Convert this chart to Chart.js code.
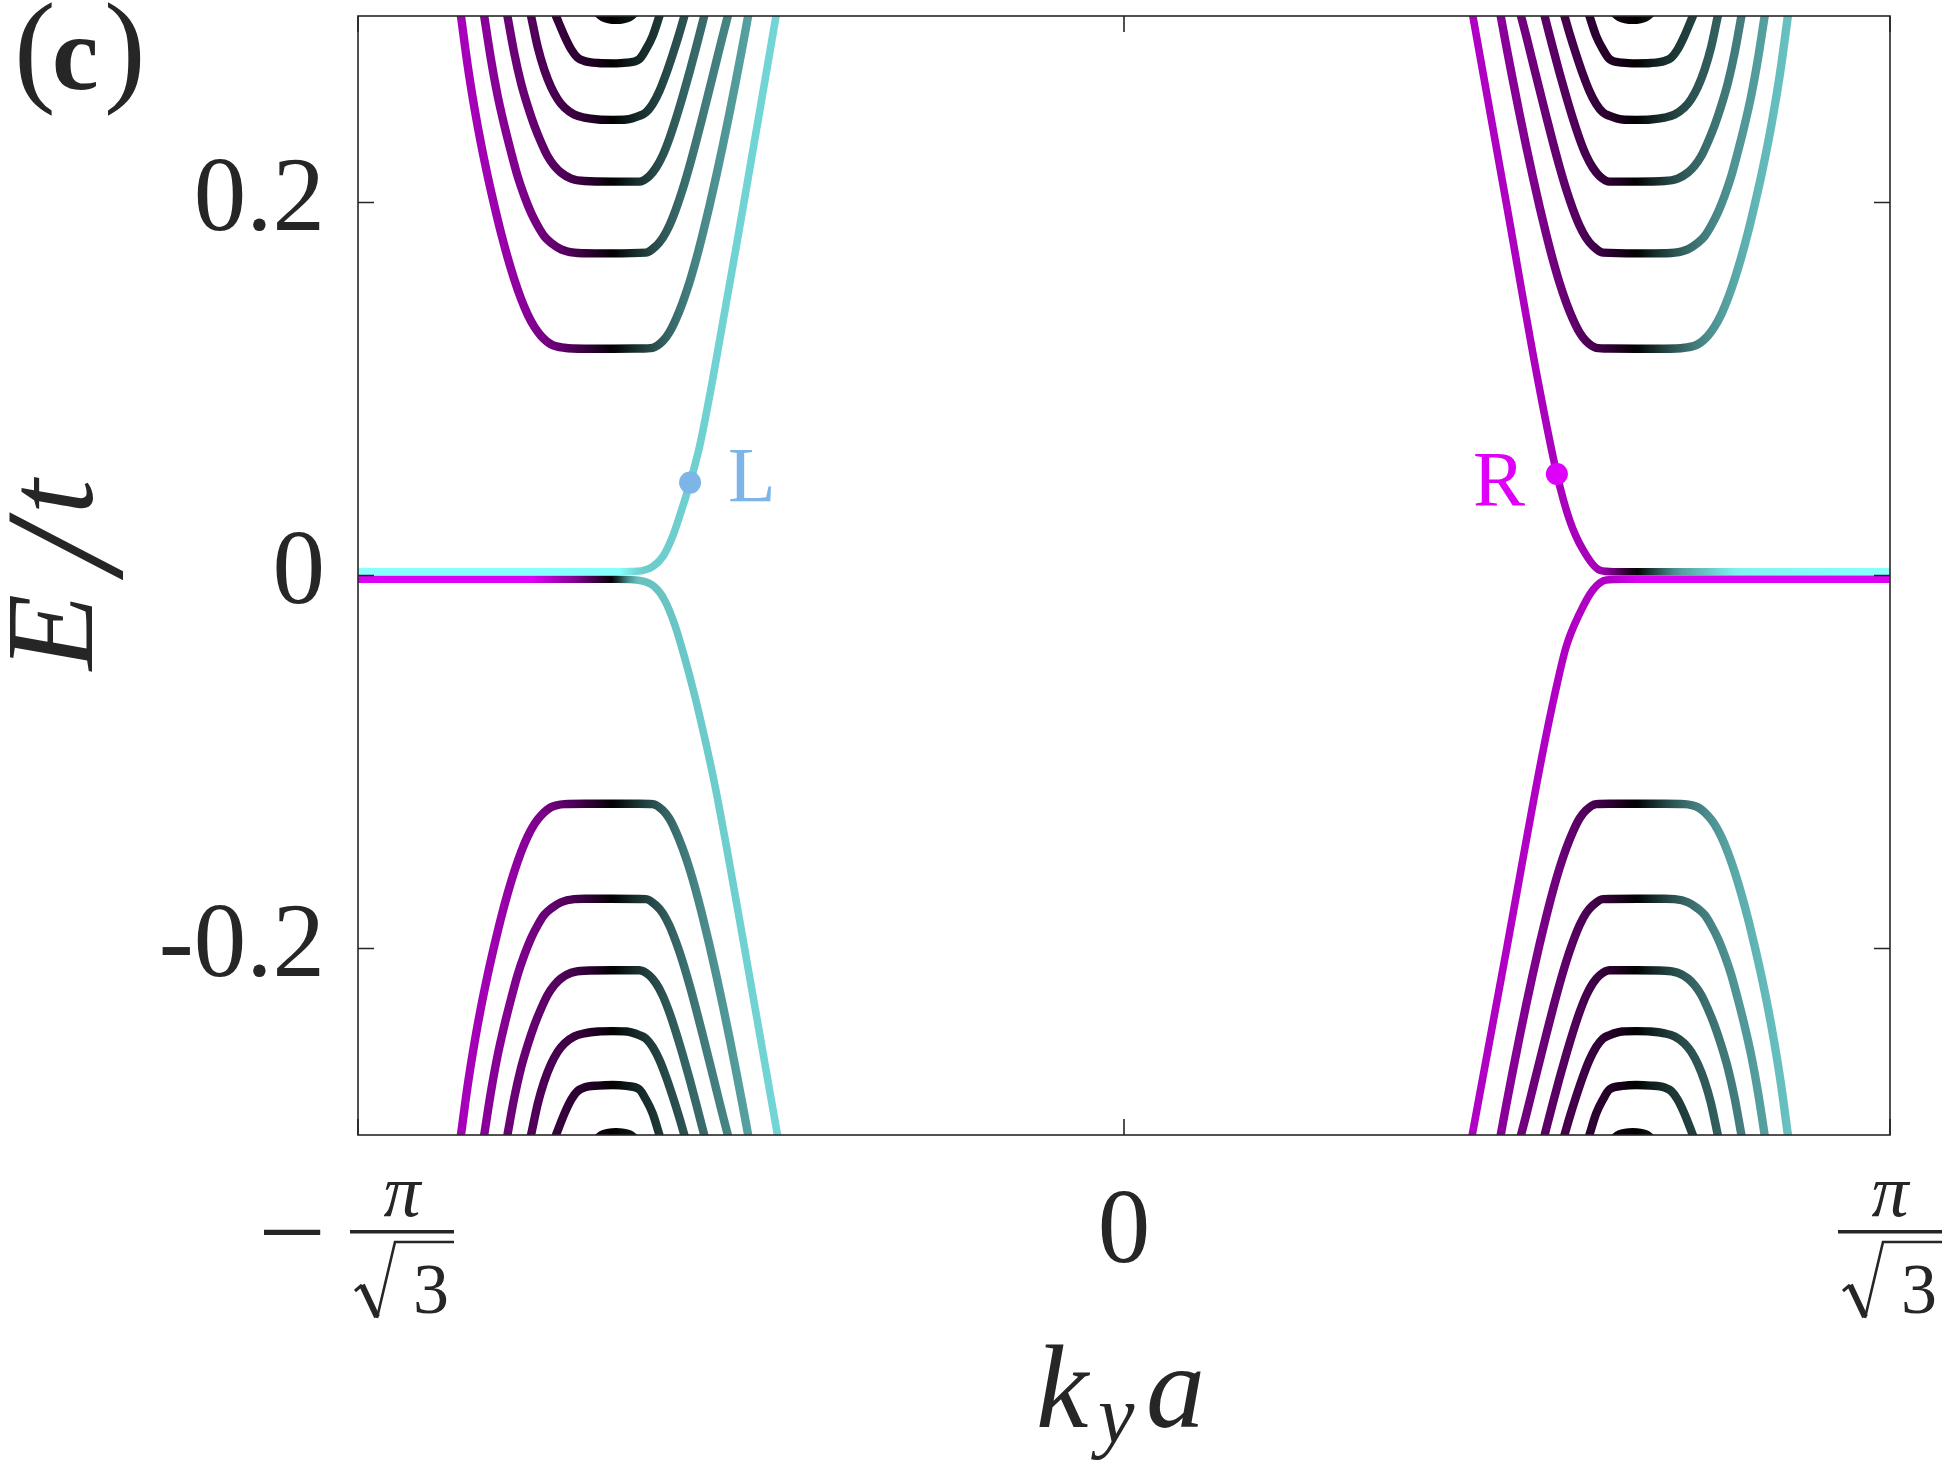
<!DOCTYPE html>
<html><head><meta charset="utf-8">
<script src="https://cdn.jsdelivr.net/npm/chart.js@4.4.1/dist/chart.umd.min.js"></script>
<style>html,body{margin:0;padding:0;background:#fff;}canvas{display:block;}</style>
</head><body>
<canvas id="c" width="1946" height="1466"></canvas>
<script>
// ---------------- DATA (ky*a on x, E/t on y) ----------------
const KMAX = Math.PI / Math.sqrt(3);
const yTicks = [-0.2, 0, 0.2];
const xTicks = [-KMAX, 0, KMAX];

// left valley, Landau-level bands n = 1..6 (c = conduction, v = valence)
const kL1 = [-1.570,-1.554,-1.538,-1.523,-1.507,-1.491,-1.475,-1.460,-1.444,-1.428,-1.412,-1.396,-1.380,-1.357,-1.325,-1.278,-1.211,-1.148,-1.116,-1.092,-1.077,-1.061,-1.045,-1.029,-1.013,-0.998,-0.982,-0.966,-0.950,-0.934,-0.919,-0.903,-0.890];
const eL1c = [0.300,0.2733,0.2506,0.2320,0.2144,0.1984,0.1835,0.1709,0.1589,0.1485,0.1399,0.1332,0.1284,0.1240,0.1221,0.1216,0.1216,0.1217,0.1221,0.1257,0.1302,0.1374,0.1464,0.1571,0.1696,0.1827,0.1977,0.2137,0.2305,0.2481,0.2652,0.2841,0.300];
const eL1v = [-0.300,-0.2733,-0.2506,-0.2320,-0.2144,-0.1984,-0.1835,-0.1709,-0.1589,-0.1485,-0.1399,-0.1332,-0.1286,-0.1243,-0.1226,-0.1224,-0.1224,-0.1224,-0.1226,-0.1259,-0.1302,-0.1374,-0.1464,-0.1571,-0.1696,-0.1827,-0.1977,-0.2137,-0.2305,-0.2481,-0.2652,-0.2841,-0.300];
const kL2 = [-1.515,-1.499,-1.483,-1.467,-1.451,-1.436,-1.420,-1.404,-1.388,-1.373,-1.357,-1.333,-1.302,-1.278,-1.215,-1.132,-1.108,-1.092,-1.077,-1.061,-1.045,-1.029,-1.013,-0.998,-0.982,-0.966,-0.950,-0.938];
const eL2c = [0.300,0.2768,0.2571,0.2410,0.2267,0.2142,0.2035,0.1945,0.1874,0.1820,0.1784,0.1749,0.1731,0.1728,0.1727,0.1731,0.1767,0.1811,0.1874,0.1964,0.2071,0.2194,0.2328,0.2460,0.2604,0.2750,0.2896,0.300];
const eL2v = [-0.300,-0.2768,-0.2571,-0.2410,-0.2267,-0.2142,-0.2035,-0.1945,-0.1874,-0.1820,-0.1786,-0.1752,-0.1735,-0.1733,-0.1733,-0.1735,-0.1769,-0.1811,-0.1874,-0.1964,-0.2071,-0.2194,-0.2328,-0.2460,-0.2604,-0.2750,-0.2896,-0.300];
const kL3 = [-1.460,-1.444,-1.428,-1.412,-1.396,-1.380,-1.365,-1.349,-1.333,-1.309,-1.278,-1.211,-1.148,-1.124,-1.108,-1.092,-1.077,-1.061,-1.045,-1.029,-1.013,-0.994];
const eL3c = [0.300,0.2803,0.2642,0.2517,0.2410,0.2321,0.2249,0.2196,0.2160,0.2128,0.2115,0.2112,0.2112,0.2142,0.2187,0.2254,0.2340,0.2449,0.2569,0.2697,0.2833,0.300];
const eL3v = [-0.300,-0.2803,-0.2642,-0.2517,-0.2410,-0.2321,-0.2249,-0.2196,-0.2160,-0.2130,-0.2119,-0.2117,-0.2117,-0.2144,-0.2187,-0.2254,-0.2340,-0.2449,-0.2569,-0.2697,-0.2833,-0.300];
const kL4 = [-1.404,-1.388,-1.373,-1.357,-1.341,-1.325,-1.302,-1.278,-1.245,-1.211,-1.178,-1.148,-1.132,-1.116,-1.100,-1.084,-1.069,-1.053,-1.041];
const eL4c = [0.300,0.2831,0.2714,0.2621,0.2554,0.2509,0.2472,0.2455,0.2445,0.2443,0.2445,0.2464,0.2483,0.2528,0.2598,0.2691,0.2791,0.2906,0.300];
const eL4v = [-0.300,-0.2831,-0.2714,-0.2621,-0.2554,-0.2509,-0.2472,-0.2455,-0.2445,-0.2443,-0.2445,-0.2464,-0.2483,-0.2528,-0.2598,-0.2691,-0.2791,-0.2906,-0.300];
const kL5 = [-1.345,-1.325,-1.309,-1.294,-1.278,-1.245,-1.211,-1.178,-1.148,-1.132,-1.116,-1.100];
const eL5c = [0.300,0.2893,0.2821,0.2777,0.2759,0.2748,0.2746,0.2750,0.2768,0.2821,0.2893,0.300];
const eL5v = [-0.300,-0.2885,-0.2810,-0.2765,-0.2745,-0.2735,-0.2732,-0.2737,-0.2755,-0.2810,-0.2885,-0.300];
const kL6 = [-1.250,-1.234,-1.203,-1.171,-1.155];
const eL6c = [0.3023,0.2993,0.2979,0.2993,0.3023];
const eL6v = [-0.3023,-0.2997,-0.2985,-0.2997,-0.3023];

// right valley
const kR1 = [0.892,0.905,0.921,0.936,0.952,0.968,0.984,1.000,1.015,1.031,1.047,1.063,1.079,1.094,1.118,1.150,1.213,1.280,1.327,1.359,1.382,1.398,1.414,1.430,1.446,1.462,1.477,1.493,1.509,1.525,1.540,1.556,1.572];
const eR1c = [0.300,0.2841,0.2652,0.2481,0.2305,0.2137,0.1977,0.1827,0.1696,0.1571,0.1464,0.1374,0.1302,0.1257,0.1221,0.1217,0.1216,0.1216,0.1221,0.1240,0.1284,0.1332,0.1399,0.1485,0.1589,0.1709,0.1835,0.1984,0.2144,0.2320,0.2506,0.2733,0.300];
const eR1v = [-0.300,-0.2841,-0.2652,-0.2481,-0.2305,-0.2137,-0.1977,-0.1827,-0.1696,-0.1571,-0.1464,-0.1374,-0.1302,-0.1259,-0.1226,-0.1224,-0.1224,-0.1224,-0.1226,-0.1243,-0.1286,-0.1332,-0.1399,-0.1485,-0.1589,-0.1709,-0.1835,-0.1984,-0.2144,-0.2320,-0.2506,-0.2733,-0.300];
const kR2 = [0.940,0.952,0.968,0.984,1.000,1.015,1.031,1.047,1.063,1.079,1.094,1.110,1.134,1.217,1.280,1.304,1.335,1.359,1.375,1.390,1.406,1.422,1.438,1.453,1.469,1.485,1.501,1.517];
const eR2c = [0.300,0.2896,0.2750,0.2604,0.2460,0.2328,0.2194,0.2071,0.1964,0.1874,0.1811,0.1767,0.1731,0.1727,0.1728,0.1731,0.1749,0.1784,0.1820,0.1874,0.1945,0.2035,0.2142,0.2267,0.2410,0.2571,0.2768,0.300];
const eR2v = [-0.300,-0.2896,-0.2750,-0.2604,-0.2460,-0.2328,-0.2194,-0.2071,-0.1964,-0.1874,-0.1811,-0.1769,-0.1735,-0.1733,-0.1733,-0.1735,-0.1752,-0.1786,-0.1820,-0.1874,-0.1945,-0.2035,-0.2142,-0.2267,-0.2410,-0.2571,-0.2768,-0.300];
const kR3 = [0.996,1.015,1.031,1.047,1.063,1.079,1.094,1.110,1.126,1.150,1.213,1.280,1.311,1.335,1.351,1.367,1.382,1.398,1.414,1.430,1.446,1.462];
const eR3c = [0.300,0.2833,0.2697,0.2569,0.2449,0.2340,0.2254,0.2187,0.2142,0.2112,0.2112,0.2115,0.2128,0.2160,0.2196,0.2249,0.2321,0.2410,0.2517,0.2642,0.2803,0.300];
const eR3v = [-0.300,-0.2833,-0.2697,-0.2569,-0.2449,-0.2340,-0.2254,-0.2187,-0.2144,-0.2117,-0.2117,-0.2119,-0.2130,-0.2160,-0.2196,-0.2249,-0.2321,-0.2410,-0.2517,-0.2642,-0.2803,-0.300];
const kR4 = [1.043,1.055,1.071,1.086,1.102,1.118,1.134,1.150,1.180,1.213,1.247,1.280,1.304,1.327,1.343,1.359,1.375,1.390,1.406];
const eR4c = [0.300,0.2906,0.2791,0.2691,0.2598,0.2528,0.2483,0.2464,0.2445,0.2443,0.2445,0.2455,0.2472,0.2509,0.2554,0.2621,0.2714,0.2831,0.300];
const eR4v = [-0.300,-0.2906,-0.2791,-0.2691,-0.2598,-0.2528,-0.2483,-0.2464,-0.2445,-0.2443,-0.2445,-0.2455,-0.2472,-0.2509,-0.2554,-0.2621,-0.2714,-0.2831,-0.300];
const kR5 = [1.102,1.118,1.134,1.150,1.180,1.213,1.247,1.280,1.296,1.311,1.327,1.347];
const eR5c = [0.300,0.2893,0.2821,0.2768,0.2750,0.2746,0.2748,0.2759,0.2777,0.2821,0.2893,0.300];
const eR5v = [-0.300,-0.2885,-0.2810,-0.2755,-0.2737,-0.2732,-0.2735,-0.2745,-0.2765,-0.2810,-0.2885,-0.300];
const kR6 = [1.157,1.173,1.205,1.236,1.252];
const eR6c = [0.3023,0.2993,0.2979,0.2993,0.3023];
const eR6v = [-0.3023,-0.2997,-0.2985,-0.2997,-0.3023];

// zero-energy / edge-state bands
const kLZu = [-1.814,-1.195,-1.171,-1.140,-1.116,-1.092,-1.069,-1.045,-1.0275,-1.005,-0.974,-0.900,-0.824];
const eLZu = [0.002,0.002,0.0021,0.0026,0.0047,0.0101,0.0208,0.0369,0.0498,0.0692,0.1051,0.200,0.300];
const kLZl = [-1.814,-1.200,-1.1435,-1.112,-1.088,-1.065,-1.041,-1.017,-0.994,-0.970,-0.940,-0.898,-0.8205];
const eLZl = [-0.002,-0.002,-0.0028,-0.0060,-0.0131,-0.0256,-0.0435,-0.0640,-0.0860,-0.1110,-0.1470,-0.2005,-0.300];
const kRZu = [0.826,0.905,0.980,1.025,1.055,1.087,1.126,1.160,1.814];
const eRZu = [0.300,0.200,0.1047,0.0544,0.0298,0.0137,0.0029,0.002,0.002];
const kRZl = [0.8245,0.907,0.988,1.024,1.047,1.079,1.110,1.142,1.180,1.814];
const eRZl = [-0.300,-0.199,-0.0989,-0.0596,-0.0382,-0.0203,-0.0078,-0.0024,-0.002,-0.002];

// marked states
const markL = [-1.0275, 0.0498];
const markR = [1.025, 0.0544];

// ---------------- STYLE ----------------
const TEXT = '#262626';
const SERIF = '"Liberation Serif","Times New Roman",serif';
const COL_L = '#7db5e6';
const COL_R = '#de00f8';
const LW = 8.4;
const leftStyle  = [[.80,.68,.20],[.66,.56,.17],[.52,.46,.14],[.40,.36,.12],[.28,.25,.09],[.14,.12,.05]];
const rightStyle = [[.68,.80,.20],[.56,.66,.17],[.46,.52,.14],[.36,.40,.12],[.25,.28,.09],[.12,.14,.05]];
const stopsLZu = [[-1.814,1],[-1.195,1],[-1.145,0.8],[-0.82,0.84]];
const stopsLZl = [[-1.814,-1],[-1.40,-1],[-1.30,-0.6],[-1.211,0],[-1.16,0.75],[-0.82,0.84]];
const stopsRZu = [[0.826,-0.8],[1.13,-0.75],[1.213,0],[1.31,0.6],[1.45,0.95],[1.814,1]];
const stopsRZl = [[0.824,-0.8],[1.15,-0.8],[1.22,-1],[1.814,-1]];

function cmap(c) {
  if (c < 0) { const a = -c; return `rgb(${Math.round(220*a)},0,${Math.round(245*a)})`; }
  return `rgb(${Math.round(136*c)},${Math.round(255*c)},${Math.round(255*c)})`;
}
const bandFn = (kc, s) => k => k < kc ? -s[0]*Math.tanh((kc-k)/s[2]) : s[1]*Math.tanh((k-kc)/s[2]);
const pwFn = st => k => {
  if (k <= st[0][0]) return st[0][1];
  for (let i = 1; i < st.length; i++) {
    if (k <= st[i][0]) { const t = (k - st[i-1][0])/(st[i][0]-st[i-1][0]); return st[i-1][1] + t*(st[i][1]-st[i-1][1]); }
  }
  return st[st.length-1][1];
};
function gradient(chart, k0, k1, fn) {
  const xs = chart.scales && chart.scales.x;
  if (!chart.chartArea || !xs) return '#000';
  const a = xs.getPixelForValue(k0), b = xs.getPixelForValue(k1);
  const g = chart.ctx.createLinearGradient(a, 0, b, 0);
  const N = 48;
  for (let i = 0; i <= N; i++) { const t = i/N; g.addColorStop(t, cmap(fn(k0 + (k1-k0)*t))); }
  return g;
}

const datasets = [];
function addBand(k, e, fn, order, w) {
  datasets.push({
    data: k.map((x, i) => ({x, y: e[i]})),
    showLine: true, pointRadius: 0, pointHoverRadius: 0, borderWidth: w || LW,
    cubicInterpolationMode: 'monotone', borderCapStyle: 'round', borderJoinStyle: 'round',
    fill: false, clip: 0, order,
    borderColor: ctx => gradient(ctx.chart, k[0], k[k.length-1], fn)
  });
}
const leftBands = [[kL1,eL1c,eL1v],[kL2,eL2c,eL2v],[kL3,eL3c,eL3v],[kL4,eL4c,eL4v],[kL5,eL5c,eL5v],[kL6,eL6c,eL6v]];
const rightBands = [[kR1,eR1c,eR1v],[kR2,eR2c,eR2v],[kR3,eR3c,eR3v],[kR4,eR4c,eR4v],[kR5,eR5c,eR5v],[kR6,eR6c,eR6v]];
leftBands.forEach((b, i) => { const f = bandFn(-1.211, leftStyle[i]); addBand(b[0], b[1], f, 3); addBand(b[0], b[2], f, 3); });
rightBands.forEach((b, i) => { const f = bandFn(1.213, rightStyle[i]); addBand(b[0], b[1], f, 3); addBand(b[0], b[2], f, 3); });
addBand(kLZu, eLZu, pwFn(stopsLZu), 2, 7.6);
addBand(kLZl, eLZl, pwFn(stopsLZl), 2, 7.6);
addBand(kRZl, eRZl, pwFn(stopsRZl), 2, 7.6);
addBand(kRZu, eRZu, pwFn(stopsRZu), 2, 7.6);
datasets.push({ data: [{x: markL[0], y: markL[1]}], pointRadius: 11, pointBackgroundColor: COL_L, pointBorderWidth: 0, order: 0 });
datasets.push({ data: [{x: markR[0], y: markR[1]}], pointRadius: 11, pointBackgroundColor: COL_R, pointBorderWidth: 0, order: 0 });

// ---------------- DECORATION PLUGIN ----------------
function drawFrac(ctx, cx) {
  ctx.fillStyle = TEXT; ctx.strokeStyle = TEXT;
  ctx.textBaseline = 'alphabetic';
  ctx.textAlign = 'center';
  ctx.font = `italic 74px ${SERIF}`;
  ctx.fillText('π', cx, 1216);
  ctx.fillRect(cx - 52, 1230, 104, 3.5);
  ctx.lineJoin = 'miter'; ctx.lineCap = 'butt';
  ctx.beginPath(); ctx.lineWidth = 3;
  ctx.moveTo(cx - 47, 1291); ctx.lineTo(cx - 40, 1285);
  ctx.stroke();
  ctx.beginPath(); ctx.lineWidth = 6;
  ctx.moveTo(cx - 40, 1285); ctx.lineTo(cx - 25, 1317);
  ctx.stroke();
  ctx.beginPath(); ctx.lineWidth = 2.6;
  ctx.moveTo(cx - 25, 1318); ctx.lineTo(cx - 7, 1242); ctx.lineTo(cx + 52, 1242);
  ctx.stroke();
  ctx.font = `72px ${SERIF}`;
  ctx.fillText('3', cx + 29, 1313);
}
const deco = {
  id: 'deco',
  afterDatasetsDraw(chart) {
    const {ctx, chartArea: a, scales: {x, y}} = chart;
    ctx.save();
    ctx.strokeStyle = TEXT; ctx.lineWidth = 1.6;
    ctx.strokeRect(a.left, a.top, a.right - a.left, a.bottom - a.top);
    const TL = 16;
    ctx.beginPath();
    for (const v of yTicks) {
      const p = y.getPixelForValue(v);
      ctx.moveTo(a.left, p); ctx.lineTo(a.left + TL, p);
      ctx.moveTo(a.right, p); ctx.lineTo(a.right - TL, p);
    }
    for (const v of xTicks) {
      const p = x.getPixelForValue(v);
      ctx.moveTo(p, a.bottom); ctx.lineTo(p, a.bottom - TL);
      ctx.moveTo(p, a.top); ctx.lineTo(p, a.top + TL);
    }
    ctx.stroke();
    ctx.restore();
  },
  afterDraw(chart) {
    const {ctx, scales: {x}} = chart;
    ctx.save();
    ctx.fillStyle = TEXT;
    ctx.textAlign = 'center'; ctx.textBaseline = 'alphabetic';
    ctx.font = `105px ${SERIF}`;
    ctx.fillText('0', x.getPixelForValue(0), 1262);
    const xl = x.getPixelForValue(-KMAX), xr = x.getPixelForValue(KMAX);
    ctx.save();
    ctx.translate(xl - 66, 1267); ctx.scale(1.15, 1);
    ctx.font = `105px ${SERIF}`;
    ctx.fillText('−', 0, 0);
    ctx.restore();
    drawFrac(ctx, xl + 44);
    drawFrac(ctx, xr);
    // x axis title k_y a
    ctx.fillStyle = TEXT;
    ctx.textAlign = 'left';
    ctx.font = `italic 118px ${SERIF}`;
    ctx.fillText('k', 1036, 1427);
    ctx.font = `italic 82px ${SERIF}`;
    ctx.fillText('y', 1098, 1442);
    ctx.font = `italic 118px ${SERIF}`;
    ctx.fillText('a', 1146, 1427);
    // y axis title E/t
    ctx.save();
    ctx.translate(92, 674); ctx.rotate(-Math.PI/2);
    ctx.textAlign = 'center';
    ctx.font = `italic 125px ${SERIF}`;
    ctx.fillText('E', 42, 0);
    ctx.font = `italic 170px ${SERIF}`;
    ctx.fillText('/', 125, 29);
    ctx.font = `italic 125px ${SERIF}`;
    ctx.fillText('t', 177, 0);
    ctx.restore();
    // panel label
    ctx.textAlign = 'left';
    ctx.font = `125px ${SERIF}`;
    ctx.fillText('(', 14, 89);
    ctx.font = `bold 105px ${SERIF}`;
    ctx.fillText('c', 52, 89);
    ctx.font = `125px ${SERIF}`;
    ctx.fillText(')', 104, 89);
    // state labels
    ctx.font = `78px ${SERIF}`;
    ctx.fillStyle = COL_L;
    ctx.fillText('L', 728, 501);
    ctx.fillStyle = COL_R;
    ctx.fillText('R', 1473, 505);
    ctx.restore();
  }
};

new Chart(document.getElementById('c'), {
  type: 'scatter',
  data: { datasets },
  options: {
    responsive: false, animation: false, devicePixelRatio: 1,
    layout: { padding: { top: 16, right: 56, left: 0, bottom: 0 } },
    plugins: { legend: { display: false }, tooltip: { enabled: false } },
    events: [],
    scales: {
      x: {
        type: 'linear', min: -KMAX, max: KMAX,
        grid: { display: false, drawTicks: false }, border: { display: false },
        ticks: { display: false },
        afterBuildTicks: s => { s.ticks = xTicks.map(v => ({value: v})); },
        afterFit: s => { s.height = 331; s.paddingLeft = 0; s.paddingRight = 0; s.paddingTop = 0; s.paddingBottom = 0; }
      },
      y: {
        type: 'linear', min: -0.3, max: 0.3,
        grid: { display: false, drawTicks: false }, border: { display: false },
        ticks: { color: TEXT, padding: 33, font: { family: 'Liberation Serif', size: 105 } },
        afterBuildTicks: s => { s.ticks = yTicks.map(v => ({value: v})); },
        afterFit: s => { s.width = 358; s.paddingTop = 0; s.paddingBottom = 0; s.paddingLeft = 0; s.paddingRight = 0; }
      }
    }
  },
  plugins: [deco]
});
</script>
</body></html>
